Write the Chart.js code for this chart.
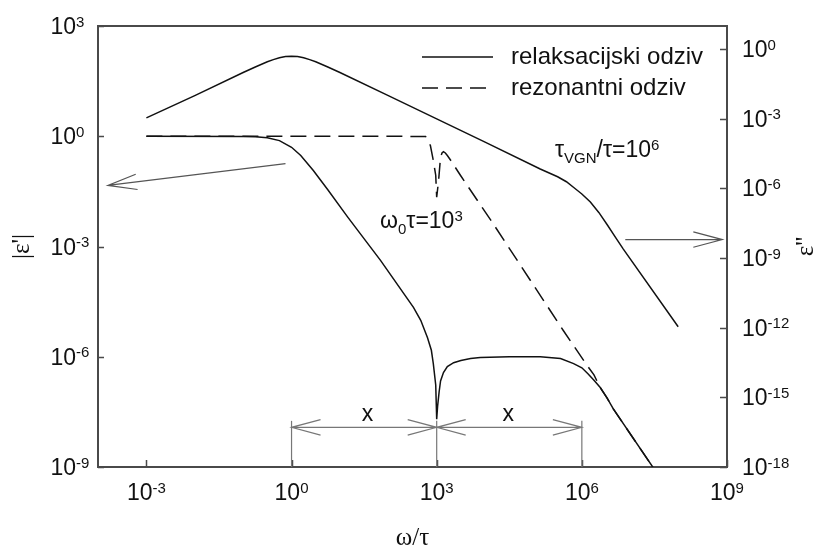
<!DOCTYPE html>
<html>
<head>
<meta charset="utf-8">
<script src="https://cdn.jsdelivr.net/npm/chart.js@4.4.1/dist/chart.umd.min.js"></script>
<style>
  body { margin: 0; background: #fff; }
  canvas { display: block; }
</style>
</head>
<body>
<canvas id="grafikOdziv" width="816" height="548"></canvas>
<script>
// omega/tau values and responses
const relaksRealW = [1e-3, 0.1, 0.178, 0.316, 0.562, 1, 1.55, 2.82, 5.62, 14.5, 69, 331, 468, 646, 776, 851, 955, 1000, 1047, 1122, 1202, 1380, 1660, 2240, 3160, 5010, 7940, 3.16e4, 1.38e5, 3.63e5, 6.76e5, 1e6, 1.32e6, 1.78e6, 2.4e6, 3.31e6, 4.47e6, 3.0e7];
const relaksReal  = [1, 0.99, 0.97, 0.91, 0.76, 0.5, 0.30, 0.117, 0.035, 6.3e-3, 4.2e-4, 2.2e-5, 9.8e-6, 3.3e-6, 1.5e-6, 6.5e-7, 1.7e-7, 2.0e-8, 4.7e-8, 1.1e-7, 2.2e-7, 3.7e-7, 5.4e-7, 6.9e-7, 7.9e-7, 8.9e-7, 9.5e-7, 1.0e-6, 1.0e-6, 8.9e-7, 6.5e-7, 5.0e-7, 3.5e-7, 2.3e-7, 1.45e-7, 7.6e-8, 3.8e-8, 9.5e-10];

const relaksGubW = [1e-3, 1e-2, 0.1, 0.178, 0.316, 0.42, 0.562, 0.75, 1, 1.33, 1.78, 2.37, 3.16, 5.62, 10, 100, 1e3, 1e4, 1.38e5, 3.16e5, 4.8e5, 6.8e5, 1e6, 1.5e6, 2.24e6, 3.4e6, 5e6, 7.2e6, 9.8e7];
const relaksGub  = [1.1e-3, 1e-2, 9.9e-2, 0.172, 0.287, 0.357, 0.427, 0.48, 0.5, 0.48, 0.427, 0.357, 0.287, 0.172, 9.9e-2, 1e-2, 1e-3, 1e-4, 6.9e-6, 3.2e-6, 1.95e-6, 1.1e-6, 5.8e-7, 2.6e-7, 9.3e-8, 2.6e-8, 7.6e-9, 2.45e-9, 1.1e-12];

const rezonW    = [1e-3, 1, 100, 590, 741, 851, 955, 1000, 1096, 1200, 1288, 1380, 1510, 1660, 2000, 3090, 7940, 1.29e4, 4.17e5, 1.17e6, 1.78e6, 2.4e6, 3.31e6, 4.47e6, 3.0e7];
const rezonReal = [1, 1, 1, 0.98, 0.56, 0.22, 0.087, 0.022, 0.063, 0.27, 0.35, 0.38, 0.35, 0.30, 0.21, 0.087, 0.0138, 5.4e-3, 5.1e-6, 6.9e-7, 3.2e-7, 1.45e-7, 7.6e-8, 3.8e-8, 9.5e-10];

const xTicks = [1e-3, 1, 1e3, 1e6, 1e9];
const yLijevoTicks = [1e-9, 1e-6, 1e-3, 1, 1e3];
const yDesnoTicks = [1e-18, 1e-15, 1e-12, 1e-9, 1e-6, 1e-3, 1];

const parovi = (xs, ys) => xs.map((x, i) => ({ x: x, y: ys[i] }));

const SANS = '"Liberation Sans", Arial, sans-serif';
const SERIF = '"Liberation Serif", "Times New Roman", serif';
const OS = '#4a4a4a';
const CRNA = '#111';

// text with sub/superscripts, parts = [[text, ''|'sup'|'sub'], ...]
function bogatiTekst(ctx, dijelovi, x, y, vel, poravnanje) {
  const mala = Math.round(vel * 0.66);
  let sirina = 0;
  dijelovi.forEach(([t, m]) => {
    ctx.font = (m ? mala : vel) + 'px ' + SANS;
    sirina += ctx.measureText(t).width;
  });
  let cx = poravnanje === 'center' ? x - sirina / 2 : poravnanje === 'right' ? x - sirina : x;
  ctx.textAlign = 'left';
  ctx.textBaseline = 'alphabetic';
  dijelovi.forEach(([t, m]) => {
    ctx.font = (m ? mala : vel) + 'px ' + SANS;
    const dy = m === 'sup' ? -vel * 0.32 : m === 'sub' ? vel * 0.26 : 0;
    ctx.fillText(t, cx, y + dy);
    cx += ctx.measureText(t).width;
  });
}

function strelica(ctx, x1, y1, x2, y2, obje) {
  const duz = 30, kut = 0.26;
  ctx.beginPath();
  ctx.moveTo(x1, y1);
  ctx.lineTo(x2, y2);
  const glava = (tx, ty, fx, fy) => {
    const a = Math.atan2(fy - ty, fx - tx);
    ctx.moveTo(tx + duz * Math.cos(a + kut), ty + duz * Math.sin(a + kut));
    ctx.lineTo(tx, ty);
    ctx.lineTo(tx + duz * Math.cos(a - kut), ty + duz * Math.sin(a - kut));
  };
  glava(x2, y2, x1, y1);
  if (obje) glava(x1, y1, x2, y2);
  ctx.stroke();
}

const eksponent = v => String(Math.round(Math.log10(v)));

const dodaci = {
  id: 'dodaci',
  afterDraw(chart) {
    const { ctx, chartArea: ca } = chart;
    const sx = chart.scales.x, sy = chart.scales.y, sy2 = chart.scales.y2;
    ctx.save();

    // inward tick marks
    ctx.strokeStyle = OS;
    ctx.lineWidth = 1.5;
    ctx.beginPath();
    xTicks.forEach(v => { const p = Math.round(sx.getPixelForValue(v)) + 0.5; ctx.moveTo(p, ca.bottom); ctx.lineTo(p, ca.bottom - 7); });
    yLijevoTicks.forEach(v => { const p = Math.round(sy.getPixelForValue(v)) + 0.5; ctx.moveTo(ca.left, p); ctx.lineTo(ca.left + 6, p); });
    yDesnoTicks.forEach(v => { const p = Math.round(sy2.getPixelForValue(v)) + 0.5; ctx.moveTo(ca.right, p); ctx.lineTo(ca.right - 7, p); });
    ctx.stroke();

    // tick labels
    ctx.fillStyle = CRNA;
    xTicks.forEach(v => bogatiTekst(ctx, [['10', ''], [eksponent(v), 'sup']], sx.getPixelForValue(v), ca.bottom + 33, 23, 'center'));
    yLijevoTicks.forEach(v => {
      const p = sy.getPixelForValue(v);
      ctx.font = '23px ' + SANS;
      const w = ctx.measureText('10').width;
      bogatiTekst(ctx, [['10', ''], [eksponent(v), 'sup']], ca.left - 22 - w, p + 8, 23, 'left');
    });
    yDesnoTicks.forEach(v => bogatiTekst(ctx, [['10', ''], [eksponent(v), 'sup']], ca.right + 15, sy2.getPixelForValue(v) + 8, 23, 'left'));

    // axis titles
    ctx.font = '25px ' + SERIF;
    ctx.textAlign = 'center';
    ctx.textBaseline = 'alphabetic';
    ctx.fillText('ω/τ', (ca.left + ca.right) / 2, 545);
    ctx.textBaseline = 'middle';
    ctx.save();
    ctx.translate(22, (ca.top + ca.bottom) / 2);
    ctx.rotate(-Math.PI / 2);
    ctx.fillText("|ε'|", 0, 0);
    ctx.restore();
    ctx.save();
    ctx.translate(806, (ca.top + ca.bottom) / 2);
    ctx.rotate(-Math.PI / 2);
    ctx.fillText("ε''", 0, 0);
    ctx.restore();

    // legend
    const ds = chart.data.datasets;
    [[ds[0], 31], [ds[2], 62]].forEach(([d, dy]) => {
      ctx.strokeStyle = d.borderColor;
      ctx.lineWidth = d.borderWidth;
      ctx.setLineDash(d.borderDash || []);
      ctx.beginPath();
      ctx.moveTo(ca.left + 324, ca.top + dy);
      ctx.lineTo(ca.left + 395, ca.top + dy);
      ctx.stroke();
      ctx.setLineDash([]);
      ctx.font = '24px ' + SANS;
      ctx.textAlign = 'left';
      ctx.textBaseline = 'middle';
      ctx.fillText(d.label, ca.left + 413, ca.top + dy);
    });

    // annotations
    bogatiTekst(ctx, [['τ', ''], ['VGN', 'sub'], ['/τ=10', ''], ['6', 'sup']], ca.left + 457, ca.top + 131, 23, 'left');
    bogatiTekst(ctx, [['ω', ''], ['0', 'sub'], ['τ=10', ''], ['3', 'sup']], ca.left + 282, ca.top + 202, 23, 'left');

    // pointer arrows to the axes
    ctx.strokeStyle = '#555';
    ctx.lineWidth = 1.2;
    strelica(ctx, sx.getPixelForValue(0.75), sy.getPixelForValue(0.18), sx.getPixelForValue(1.6e-4), sy.getPixelForValue(0.046), false);
    strelica(ctx, sx.getPixelForValue(7.9e6), sy2.getPixelForValue(6.3e-9), sx.getPixelForValue(8e8), sy2.getPixelForValue(6.3e-9), false);

    // decade distance markers
    ctx.strokeStyle = '#777';
    const yStr = sy.getPixelForValue(1.2e-8);
    [1, 1e3, 1e6].forEach(v => {
      const p = sx.getPixelForValue(v);
      ctx.beginPath();
      ctx.moveTo(p, sy.getPixelForValue(1.8e-8));
      ctx.lineTo(p, ca.bottom);
      ctx.stroke();
    });
    strelica(ctx, sx.getPixelForValue(1), yStr, sx.getPixelForValue(1e3), yStr, true);
    strelica(ctx, sx.getPixelForValue(1e3), yStr, sx.getPixelForValue(1e6), yStr, true);
    ctx.fillStyle = CRNA;
    ctx.font = '23px ' + SANS;
    ctx.textAlign = 'center';
    ctx.textBaseline = 'middle';
    ctx.fillText('x', sx.getPixelForValue(37), sy.getPixelForValue(2.7e-8));
    ctx.fillText('x', sx.getPixelForValue(3e4), sy.getPixelForValue(2.7e-8));

    ctx.restore();
  }
};

const skalaOpcije = (pozicija, min, max) => ({
  type: 'logarithmic',
  position: pozicija,
  min: min,
  max: max,
  ticks: { display: false },
  grid: { display: false, drawTicks: false },
  border: { display: true, color: OS, width: 2 }
});

const linija = (label, data, os, dash) => ({
  label: label,
  data: data,
  yAxisID: os,
  showLine: true,
  borderColor: CRNA,
  borderWidth: 1.5,
  borderDash: dash,
  pointRadius: 0,
  tension: 0
});

new Chart(document.getElementById('grafikOdziv').getContext('2d'), {
  type: 'scatter',
  data: {
    datasets: [
      linija('relaksacijski odziv', parovi(relaksRealW, relaksReal), 'y', []),
      linija("relaksacijski odziv (ε'')", parovi(relaksGubW, relaksGub), 'y2', []),
      linija('rezonantni odziv', parovi(rezonW, rezonReal), 'y', [16, 8])
    ]
  },
  options: {
    responsive: false,
    animation: false,
    layout: { padding: { left: 98, top: 26, right: 89, bottom: 81 } },
    scales: {
      x: skalaOpcije('bottom', 1e-4, 1e9),
      xGore: skalaOpcije('top', 1e-4, 1e9),
      y: skalaOpcije('left', 1e-9, 1e3),
      y2: skalaOpcije('right', 1e-18, 1e1)
    },
    plugins: {
      legend: { display: false },
      tooltip: { enabled: false }
    }
  },
  plugins: [dodaci]
});
</script>
</body>
</html>
